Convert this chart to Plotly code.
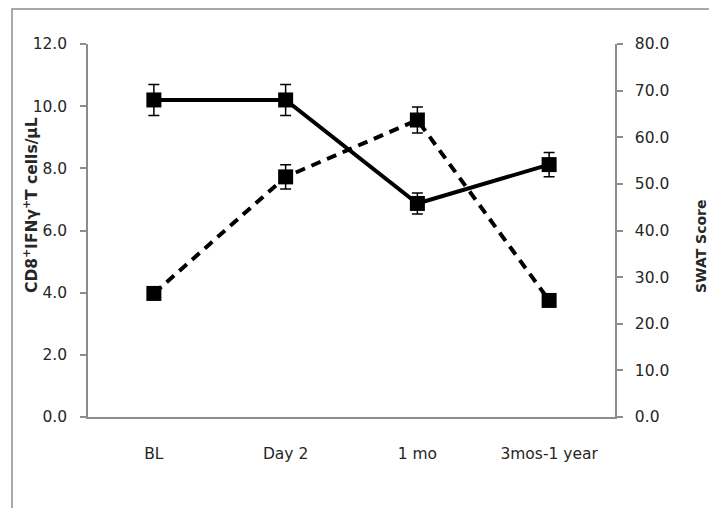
import plotly.graph_objects as go

# Time points
categories = ["BL", "Day 2", "1 mo", "3mos-1 year"]

# CD8+IFNγ+ T cells per µL (left axis), mean and error
cd8_ifng = [10.2, 10.2, 6.87, 8.12]
cd8_err = [0.5, 0.5, 0.34, 0.39]

# SWAT score (right axis), mean and error
swat = [26.5, 51.5, 63.7, 25.0]
swat_err = [0, 2.6, 2.8, 0]

left_ticks = [0, 2, 4, 6, 8, 10, 12]
right_ticks = [0, 10, 20, 30, 40, 50, 60, 70, 80]

W, H = 709, 508
L, R, T, B = 88, 615, 44, 417  # plot-area edges in pixels
pw, ph = R - L, B - T

axis_grey = "#8c8c8c"
text_col = "#262626"
tick_font = dict(family="DejaVu Sans", size=15.5, color=text_col)

fig = go.Figure()

fig.add_trace(go.Scatter(
    x=categories, y=swat, yaxis="y2", mode="lines+markers",
    line=dict(color="black", width=4, dash="10px,7px"),
    marker=dict(symbol="square", size=15, color="black"),
    error_y=dict(type="data", array=swat_err, color="black", thickness=1.5, width=5.5),
    showlegend=False,
))

fig.add_trace(go.Scatter(
    x=categories, y=cd8_ifng, yaxis="y", mode="lines+markers",
    line=dict(color="black", width=4),
    marker=dict(symbol="square", size=15, color="black"),
    error_y=dict(type="data", array=cd8_err, color="black", thickness=1.5, width=5.5),
    showlegend=False,
))

# Outer chart frame
fig.add_shape(
    type="rect", xref="paper", yref="paper",
    x0=(12 - L) / pw, x1=(W + 10 - L) / pw,
    y0=(B - (H + 10)) / ph, y1=(B - 9) / ph,
    line=dict(color=axis_grey, width=1.5), fillcolor="rgba(0,0,0,0)", layer="below",
)

fig.add_annotation(
    text="<b>CD8<sup>+</sup>IFNγ<sup>+</sup>T cells/μL</b>",
    xref="paper", yref="paper", x=(31 - L) / pw, y=(B - 205) / ph,
    textangle=-90, showarrow=False, xanchor="center", yanchor="middle",
    font=dict(family="DejaVu Sans", size=15.5, color=text_col),
)
fig.add_annotation(
    text="<b>SWAT Score</b>",
    xref="paper", yref="paper", x=(701 - L) / pw, y=(B - 247) / ph,
    textangle=-90, showarrow=False, xanchor="center", yanchor="middle",
    font=dict(family="DejaVu Sans", size=14, color=text_col),
)

fig.update_layout(
    width=W, height=H,
    margin=dict(l=L, r=W - R, t=T, b=H - B, pad=0),
    paper_bgcolor="white", plot_bgcolor="white",
    xaxis=dict(
        type="category", range=[-0.5, 3.5],
        showline=True, linecolor=axis_grey, linewidth=1.5,
        ticks="", showgrid=False, zeroline=False,
        tickfont=tick_font, ticklabelstandoff=22,
    ),
    yaxis=dict(
        range=[0, 12], tickvals=left_ticks, tickformat=".1f",
        showline=True, linecolor=axis_grey, linewidth=1.5,
        ticks="outside", ticklen=6, tickcolor=axis_grey, tickwidth=1.5,
        showgrid=False, zeroline=False, tickfont=tick_font, ticklabelstandoff=10,
    ),
    yaxis2=dict(
        range=[0, 80], tickvals=right_ticks, tickformat=".1f",
        overlaying="y", side="right",
        showline=True, linecolor=axis_grey, linewidth=1.5,
        ticks="outside", ticklen=6, tickcolor=axis_grey, tickwidth=1.5,
        showgrid=False, zeroline=False, tickfont=tick_font, ticklabelstandoff=9,
    ),
)

fig.write_html("out.html")
